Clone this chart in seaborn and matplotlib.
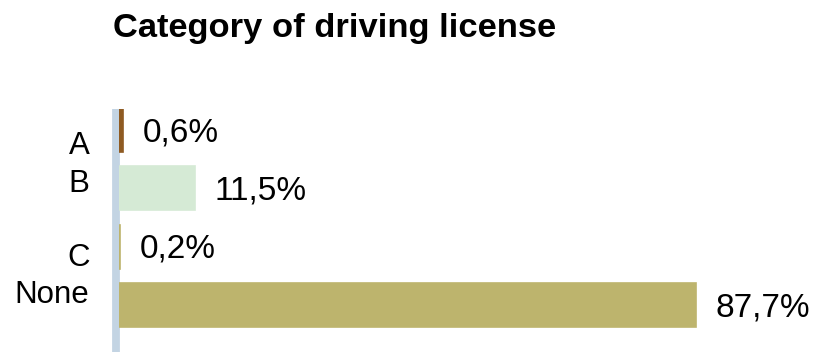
import matplotlib
matplotlib.use("Agg")
import matplotlib.pyplot as plt
from matplotlib.transforms import ScaledTranslation
import seaborn as sns
import pandas as pd

# Share of respondents by driving-license category
categories = ["A", "B", "C", "None"]
shares = [0.6, 11.5, 0.2, 87.7]
value_labels = ["0,6%", "11,5%", "0,2%", "87,7%"]
bar_colors = ["#8f5b22", "#d5ead5", "#bdb46d", "#bdb46d"]

df = pd.DataFrame({"category": categories, "share": shares})

sns.set_style("white")
plt.rcParams["font.family"] = ["Liberation Sans", "DejaVu Sans"]

W, H, DPI = 823, 352, 100
fig = plt.figure(figsize=(W / DPI, H / DPI), dpi=DPI)

ax_left, ax_top = 119, 109
ax_w = 658
ax = fig.add_axes([ax_left / W, 0, ax_w / W, (H - ax_top) / H])

sns.barplot(
    data=df, x="share", y="category", hue="category",
    palette=dict(zip(categories, bar_colors)), saturation=1,
    legend=False, orient="h", width=0.754, ax=ax,
)
# outline each bar in its own colour so very small shares stay visible
for p in ax.patches:
    p.set_edgecolor(p.get_facecolor())
    p.set_linewidth(1.2)

ax.set_xlim(0, 100)
ax.set_ylim(3.806, -0.36)
ax.set_xlabel("")
ax.set_ylabel("")
ax.set_xticks([])

for side in ("top", "right", "bottom"):
    ax.spines[side].set_visible(False)
spine = ax.spines["left"]
spine.set_color("#c3d4e3")
spine.set_linewidth(5.6)
spine.set_capstyle("butt")
spine.set_position(("outward", 2.2))
spine.set_zorder(0.5)

ax.tick_params(axis="y", length=0, pad=19, labelsize=22.5, labelcolor="black")

# nudge category labels vertically (pixels, positive = down)
label_shift_px = [13, -8, 8, -13]
for lbl, dy in zip(ax.get_yticklabels(), label_shift_px):
    lbl.set_transform(lbl.get_transform()
                      + ScaledTranslation(0, -dy / DPI, fig.dpi_scale_trans))

# value annotations to the right of each bar
for i, (v, txt) in enumerate(zip(shares, value_labels)):
    ax.annotate(txt, xy=(v, i), xytext=(14, -2), textcoords="offset points",
                ha="left", va="center", fontsize=24, color="black",
                annotation_clip=False)

fig.text(113 / W, 1 - 37 / H, "Category of driving license",
         fontsize=24.8, fontweight="bold", ha="left", va="baseline",
         color="black")

fig.savefig("out.png", dpi=DPI)
